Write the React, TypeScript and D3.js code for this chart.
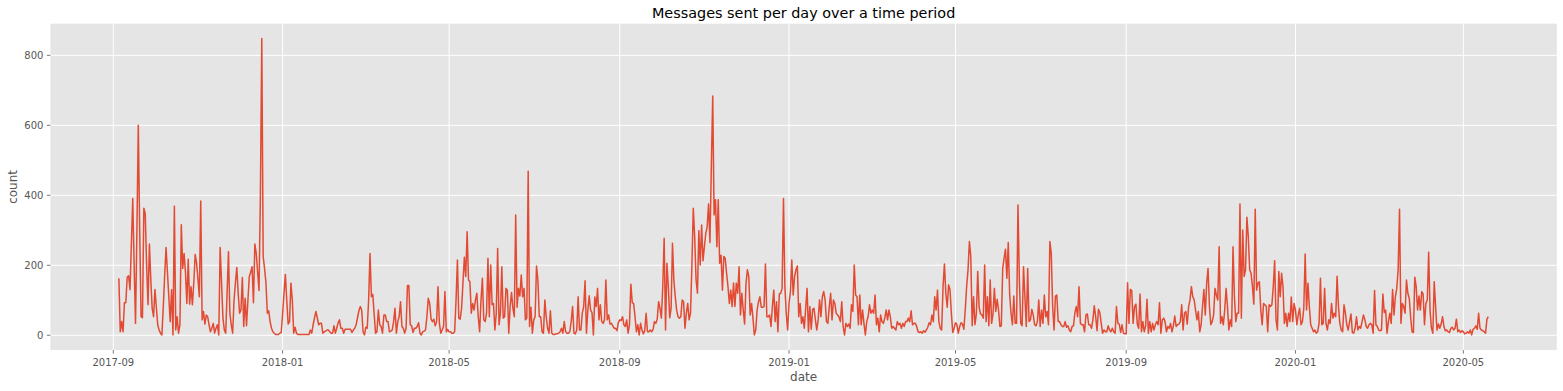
import React from 'react';
import * as d3 from 'd3';

// Daily message counts, consecutive days starting at startDate
const startDate = '2017-09-05';

const seg01 = [163,10,39,10,93,93,166,170,130,260,
391,200,34,300,600,300,53,50,363,348,
200,87,261,160,77,53,131,80,30,15,
6,1,80,170,251,180,110,39,130,1,
369,15,53,6,30,316,191,234,180,91,
217,89,139,87,150,231,206,160,110,384,
44,68,32,58,53,30,10,20,34,6,
20,30,1,251,150,50,15];

const seg02 = [6,120,239,63,30,6,100,150,194,120,
63,72,165,25,106,27,100,168,180,196,
93,261,234,180,128,400,848,225,191,150,
63,70,39,20,10,6,2,2,2,6,
8,60,120,174,100,32,39,149,101,6,
23,6,2,2,2,2,2,2,2,2,
2,15,6,30,50,68,50,30,34,34,
6,10,12,15,15,10,6,6,27,6,
20,35,44,20];

const seg03 = [20,6,17,17,17,17,17,8,15,20,
30,50,70,82,72,10,1,23,20,100,
234,110,117,60,6,10,72,30,25,6,
58,58,39,39,10,12,15,39,77,6,
39,53,96,25,20,6,20,142,142,30,
27,8,20,20,25,36,6,1,10,12,
15,53,106,91,46,39,46,27,39,139,
34,6,15,25,125,10,17,10,10,6,
6,10,100,215];

const seg04 = [49,46,77,150,223,168,296,158,153,63,
91,72,101,120,53,10,100,163,44,39,
63,220,53,201,87,91,15,63,248,30,
63,196,49,53,134,129,6,82,122,77,
53,344,80,134,112,172,110,134,44,49,
469,25,80,6,44,53,198,158,53,53,
10,6,101,53,20,6,70,6,2,2,
4,4,6,10,20,6,39,10,6,6,
10,40,82,6];

const seg05 = [4,15,110,15,15,63,82,156,6,72,
113,72,65,1,109,82,134,44,87,39,
34,44,158,44,58,32,34,27,20,20,
13,36,44,42,53,30,25,44,6,30,
146,93,91,53,10,30,1,34,15,4,
13,63,10,10,15,10,17,39,34,46,
96,77,49,139,277,15,206,139,50,77,
263,158,110,72,53,49,53,101,96,20,
63,91,44];

const seg06 = [63,200,363,282,158,120,299,201,315,213,
253,291,310,375,265,480,684,344,387,253,
387,206,229,129,225,220,177,139,91,129,
82,149,82,149,120,196,58,120,72,32,
149,187,168,58,91,49,1,15,72,96,
110,80,80,82,204,53,53,58,25,82,
129,39,96,10,118,120,134,391,139,63,
15,91,125,215,115,168,187,198,53,91,
34,53,20,77];

const seg07 = [134,10,82,17,74,77,44,15,44,101,
53,110,125,101,39,34,82,120,44,101,
91,63,58,53,39,96,25,1,34,25,
32,20,87,68,201,115,110,30,115,30,
72,34,1,39,53,87,63,72,63,115,
30,49,10,58,39,34,49,72,44,72,
53,20,25,20,15,39,30,34,20,34,
25,39,39,49,39,70,30,34,34,25,
10,8,10];

const seg08 = [6,13,9,15,23,36,30,58,39,110,
72,129,39,20,15,139,204,120,80,144,
131,63,8,20,36,30,6,25,36,32,
17,72,139,187,268,225,27,110,30,61,
182,80,61,58,49,201,39,110,27,158,
34,61,134,68,103,72,25,27,191,220,
246,163,265,118,63,30,112,34,34,372,
158,34,27,196,110,25,191,39,44,74,
58,30,27,39];

const seg09 = [101,25,72,34,115,53,68,30,268,234,
82,15,112,115,39,39,30,25,25,39,
23,27,15,10,25,27,63,82,53,139,
34,30,30,10,58,61,30,30,20,44,
84,53,13,74,65,34,6,15,10,10,
27,15,10,20,10,6,82,34,32,8,
30,6,4,4,150,34,131,128,34,82,
89,32,20,118,10,39,10,27,103,6,
39,10,34,15];

const seg10 = [30,39,30,93,6,44,49,39,10,25,
20,34,10,27,55,25,30,32,39,87,
15,63,68,32,82,101,139,110,101,72,
44,68,10,30,82,131,58,149,191,82,
30,39,58,134,115,101,253,34,53,30,
72,134,82,15,44,25,253,110,39,63,
63,375,49,301,168,187,337,282,187,177,
139,89,360,129,149,153,72,30,91,87,
82,10,87];

const seg11 = [82,87,139,213,44,15,182,110,177,139,
34,63,25,63,39,109,39,91,72,30,
58,77,30,39,77,232,72,149,82,30,
20,10,15,6,10,34,163,30,34,134,
34,15,44,34,91,49,63,53,169,82,
34,15,10,87,63,30,15,39,61,8,
6,20,53,15,25,20,39,58,44,25,
20,30,34,30,6,128,30,25,15,13,
15,118,65,72];

const seg12 = [6,39,63,34,131,58,110,134,187,360,
34,91,82,63,158,120,106,53,10,8,
166,139,72,112,72,125,118,30,91,101,
237,72,20,6,153,82,15,32,20,32,
53,25,13,15,10,8,20,23,15,20,
46,10,15,8,13,10,4,6,10,6,
15,1,17,20,27,17,63,20,15,13,
10,6,46,53];

const segments = [seg01, seg02, seg03, seg04, seg05, seg06, seg07, seg08, seg09, seg10, seg11, seg12];

const xTickLabels = ['2017-09', '2018-01', '2018-05', '2018-09', '2019-01', '2019-05', '2019-09', '2020-01', '2020-05'];
const yTickValues = [0, 200, 400, 600, 800];

const titleText = 'Messages sent per day over a time period';
const xLabelText = 'date';
const yLabelText = 'count';

export default function App() {
  const W = 1563, H = 391;
  const left = 50.4, right = 1556.8, top = 23.7, bottom = 350.1;
  const font = '"DejaVu Sans", sans-serif';

  const parseDay = d3.timeParse('%Y-%m-%d');
  const parseMonth = d3.timeParse('%Y-%m');
  const start = parseDay(startDate) as Date;
  const counts = segments.flat();
  const data = counts.map((v, i) => ({ date: d3.timeDay.offset(start, i), v }));

  const [dMin, dMax] = d3.extent(data, (d) => d.date) as [Date, Date];
  const pad = (+dMax - +dMin) * 0.05;
  const x = d3.scaleTime()
    .domain([new Date(+dMin - pad), new Date(+dMax + pad)])
    .range([left, right]);

  const vMax = d3.max(counts) as number;
  const vMin = Math.min(0, d3.min(counts) as number);
  const vPad = (vMax - vMin) * 0.05;
  const y = d3.scaleLinear().domain([vMin - vPad, vMax + vPad]).range([bottom, top]);

  const line = d3.line<{ date: Date; v: number }>()
    .x((d) => x(d.date))
    .y((d) => y(d.v));

  const xTicks = xTickLabels.map((s) => ({ label: s, date: parseMonth(s) as Date }));
  const tickColor = '#555555';

  return (
    <svg width={W} height={H} style={{ position: 'absolute', left: 0, top: 0, background: '#ffffff' }} fontFamily={font}>
      <rect x={0} y={0} width={W} height={H} fill="#ffffff" />
      <rect x={left} y={top} width={right - left} height={bottom - top} fill="#E5E5E5" />
      {xTicks.map((t) => (
        <line key={'gx' + t.label} x1={x(t.date)} x2={x(t.date)} y1={top} y2={bottom} stroke="#ffffff" strokeWidth={1} />
      ))}
      {yTickValues.map((v) => (
        <line key={'gy' + v} x1={left} x2={right} y1={y(v)} y2={y(v)} stroke="#ffffff" strokeWidth={1} />
      ))}
      <path d={line(data) || ''} fill="none" stroke="#E24A33" strokeWidth={1.5} strokeLinejoin="round" strokeLinecap="butt" />
      {xTicks.map((t) => (
        <g key={'tx' + t.label}>
          <line x1={x(t.date)} x2={x(t.date)} y1={bottom} y2={bottom + 3.5} stroke={tickColor} strokeWidth={0.8} />
          <text x={x(t.date)} y={366.3} fontSize={10} fill={tickColor} textAnchor="middle">{t.label}</text>
        </g>
      ))}
      {yTickValues.map((v) => (
        <g key={'ty' + v}>
          <line x1={left - 3.5} x2={left} y1={y(v)} y2={y(v)} stroke={tickColor} strokeWidth={0.8} />
          <text x={left - 7} y={y(v)} dy="0.36em" fontSize={10} fill={tickColor} textAnchor="end">{v}</text>
        </g>
      ))}
      <text x={(left + right) / 2} y={18} fontSize={14.4} fill="#000000" textAnchor="middle">{titleText}</text>
      <text x={(left + right) / 2} y={381} fontSize={12} fill={tickColor} textAnchor="middle">{xLabelText}</text>
      <text transform={`translate(17,${(top + bottom) / 2}) rotate(-90)`} fontSize={12} fill={tickColor} textAnchor="middle">{yLabelText}</text>
    </svg>
  );
}
